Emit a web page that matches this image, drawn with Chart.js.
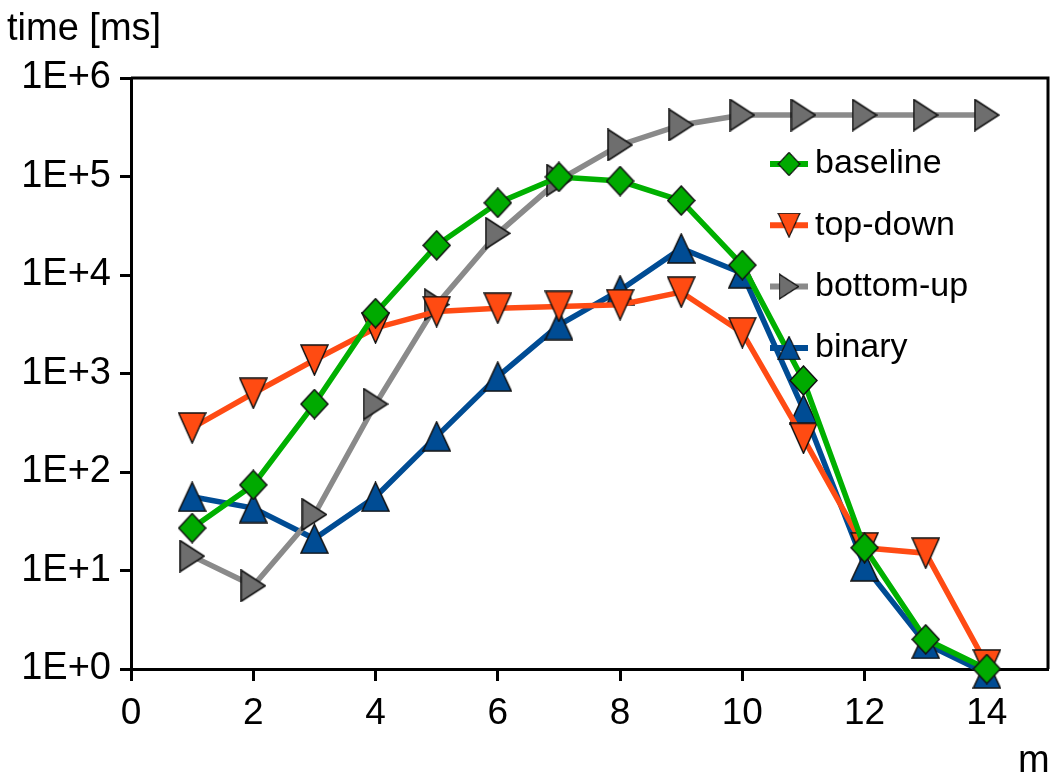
<!DOCTYPE html>
<html>
<head>
<meta charset="utf-8">
<script src="https://cdn.jsdelivr.net/npm/chart.js@4.4.1/dist/chart.umd.min.js"></script>
<style>
  html, body { margin: 0; padding: 0; background: #fff; }
  #wrap { width: 1051px; height: 782px; position: relative; }
</style>
</head>
<body>
<div id="wrap"><canvas id="chart"></canvas></div>
<script>
/* --- Data --- */
const mValues = [1, 2, 3, 4, 5, 6, 7, 8, 9, 10, 11, 12, 13, 14];
const baseline = [27, 74, 490, 4100, 20000, 54000, 99000, 90000, 57000, 12600, 850, 17, 2.0, 1.0];
const topDown = [280, 630, 1370, 2900, 4250, 4600, 4800, 5000, 6700, 2600, 220, 17, 15, 1.1];
const bottomUp = [14, 7, 37, 490, 5000, 26500, 92000, 209000, 334000, 421000, 421000, 421000, 421000, 421000];
const binary = [56, 43, 21, 56, 230, 930, 3100, 7000, 18600, 10400, 430, 11, 1.8, 0.9];
const xTicks = [0, 2, 4, 6, 8, 10, 12, 14];
const yTicks = [1, 10, 100, 1000, 10000, 100000, 1000000];
const seriesNames = ['baseline', 'top-down', 'bottom-up', 'binary'];

const FONT = '"Liberation Sans", Arial, sans-serif';

/* --- Marker images --- */
function makeMarker(w, h, fill, pts) {
    const c = document.createElement('canvas');
    c.width = w; c.height = h;
    const ctx = c.getContext('2d');
    ctx.beginPath();
    pts.forEach((p, i) => {
        const x = 1 + p[0] * (w - 2), y = 1 + p[1] * (h - 2);
        if (i === 0) ctx.moveTo(x, y); else ctx.lineTo(x, y);
    });
    ctx.closePath();
    ctx.fillStyle = fill;
    ctx.fill();
    ctx.lineWidth = 1.5;
    ctx.strokeStyle = '#111';
    ctx.lineJoin = 'miter';
    ctx.stroke();
    return c;
}

const markerDiamond = makeMarker(29, 31, '#00aa00', [[0.5, 0], [1, 0.5], [0.5, 1], [0, 0.5]]);
const markerDown = makeMarker(29, 32, '#ff4b12', [[0, 0], [1, 0], [0.5, 1]]);
const markerRight = makeMarker(26, 33, '#6e6e6e', [[0, 0], [1, 0.5], [0, 1]]);
const markerUp = makeMarker(29, 31, '#004c94', [[0.5, 0], [1, 1], [0, 1]]);

const lineColors = ['#00b000', '#ff4b14', '#8a8a8a', '#004c94'];
const markers = [markerDiamond, markerDown, markerRight, markerUp];
const seriesData = [baseline, topDown, bottomUp, binary];

/* --- Plugin: frame, titles, legend --- */
const decorPlugin = {
    id: 'decor',
    afterDraw(chart) {
        const ctx = chart.ctx;
        const a = chart.chartArea;
        ctx.save();
        // frame on top/right
        ctx.strokeStyle = '#000';
        ctx.lineWidth = 3;
        ctx.beginPath();
        ctx.moveTo(a.left, a.top);
        ctx.lineTo(a.right, a.top);
        ctx.lineTo(a.right, a.bottom);
        ctx.stroke();

        // axis titles
        ctx.fillStyle = '#000';
        ctx.font = '38px ' + FONT;
        ctx.textBaseline = 'middle';
        ctx.textAlign = 'left';
        ctx.fillText('time [ms]', 7, 30);
        ctx.fillText('m', 1018, 762);

        // legend
        ctx.font = '34px ' + FONT;
        const lx0 = 770, lx1 = 808, tx = 815;
        seriesNames.forEach((name, i) => {
            const y = 164 + i * 61.3;
            ctx.strokeStyle = lineColors[i];
            ctx.lineWidth = 6;
            ctx.beginPath();
            ctx.moveTo(lx0, y);
            ctx.lineTo(lx1, y);
            ctx.stroke();
            const m = markers[i];
            const w = m.width * 0.8, h = m.height * 0.8;
            ctx.drawImage(m, (lx0 + lx1) / 2 - w / 2, y - h / 2, w, h);
            ctx.fillStyle = '#000';
            ctx.fillText(name, tx, y);
        });
        ctx.restore();
    }
};

/* --- Chart --- */
const datasets = seriesNames.map((name, i) => ({
    label: name,
    data: mValues.map((m, j) => ({ x: m, y: seriesData[i][j] })),
    borderColor: lineColors[i],
    borderWidth: 5.5,
    pointStyle: markers[i],
    pointRadius: 14,
    pointHoverRadius: 14,
    tension: 0,
    clip: false
}));

new Chart(document.getElementById('chart'), {
    type: 'line',
    data: { datasets: datasets },
    plugins: [decorPlugin],
    options: {
        responsive: true,
        maintainAspectRatio: false,
        animation: false,
        layout: { autoPadding: false, padding: { left: 0, right: 3, top: 78, bottom: 0 } },
        plugins: {
            legend: { display: false },
            tooltip: { enabled: false }
        },
        scales: {
            x: {
                type: 'linear',
                min: 0,
                max: 15,
                afterBuildTicks: (scale) => { scale.ticks = xTicks.map(v => ({ value: v })); },
                afterFit: (scale) => { scale.height = 113; scale.paddingRight = 0; },
                grid: {
                    display: true,
                    drawOnChartArea: false,
                    drawTicks: true,
                    tickLength: 12,
                    tickWidth: 3,
                    color: '#000'
                },
                border: { display: true, color: '#000', width: 3 },
                ticks: {
                    color: '#000',
                    font: { family: FONT, size: 37 },
                    padding: 11,
                    maxRotation: 0,
                    callback: (v) => String(v)
                }
            },
            y: {
                type: 'logarithmic',
                min: 1,
                max: 1000000,
                afterBuildTicks: (scale) => { scale.ticks = yTicks.map(v => ({ value: v })); },
                afterFit: (scale) => { scale.width = 131; scale.paddingTop = 0; },
                grid: {
                    display: true,
                    drawOnChartArea: false,
                    drawTicks: true,
                    tickLength: 11,
                    tickWidth: 3,
                    color: '#000'
                },
                border: { display: true, color: '#000', width: 3 },
                ticks: {
                    color: '#000',
                    font: { family: FONT, size: 38 },
                    padding: 9,
                    callback: (v) => '1E+' + Math.round(Math.log10(v))
                }
            }
        }
    }
});
</script>
</body>
</html>
